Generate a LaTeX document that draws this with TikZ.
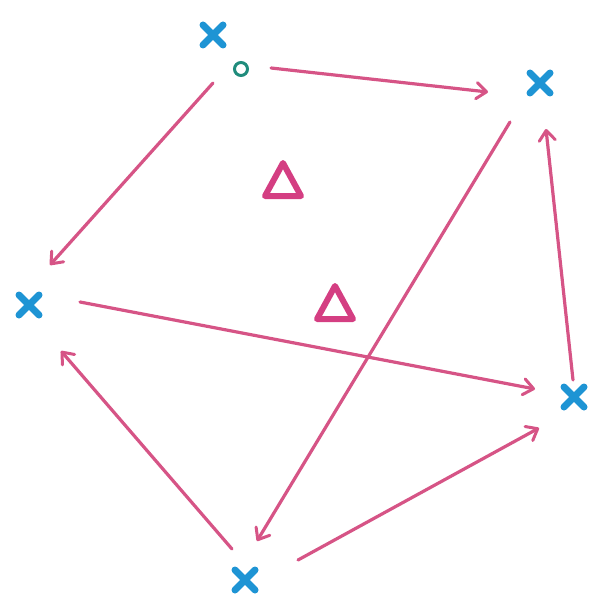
\documentclass[tikz,border=0pt]{standalone}
\usetikzlibrary{arrows.meta}
\definecolor{xblue}{RGB}{30,148,212}
\definecolor{arrpink}{RGB}{214,84,134}
\definecolor{tripink}{RGB}{212,62,130}
\definecolor{teal2}{RGB}{32,140,124}
\tikzset{
  xmark/.style={inner sep=0pt, minimum size=30pt, outer sep=0pt},
  xdraw/.style={draw=xblue, line width=7pt, line cap=round},
  conn/.style={draw=arrpink, line width=3.2pt, line cap=round,
    -{Straight Barb[length=10pt, width=16pt, line width=3pt, round]}},
  tri/.style={draw=tripink, line width=6pt, line join=round},
}
\newcommand{\xcross}[1]{\draw[xdraw] ([shift={(-10pt,-10pt)}]#1.center) -- ([shift={(10pt,10pt)}]#1.center) ([shift={(10pt,-10pt)}]#1.center) -- ([shift={(-10pt,10pt)}]#1.center);}
\begin{document}
\begin{tikzpicture}[x=1pt, y=-1pt]
\useasboundingbox (0,0) rectangle (594,599);
% marks
\node[xmark] (top) at (213,35) {};
\node[xmark] (tr) at (540,83) {};
\node[xmark] (lf) at (29,305) {};
\node[xmark] (rt) at (574,397) {};
\node[xmark] (bt) at (245,580) {};
\xcross{top}\xcross{tr}\xcross{lf}\xcross{rt}\xcross{bt}
\node[draw=teal2, line width=3pt, circle, minimum size=13pt, inner sep=0pt] (circ) at (241,69) {};
% arrow endpoints
\coordinate (a1s) at (271,68);  \coordinate (a1e) at (488,92);
\coordinate (a2s) at (213,83);  \coordinate (a2e) at (50,265);
\coordinate (a3s) at (510,122); \coordinate (a3e) at (257,541);
\coordinate (a4s) at (80,302);  \coordinate (a4e) at (535,389);
\coordinate (a5s) at (232,549); \coordinate (a5e) at (61,351);
\coordinate (a6s) at (298,560); \coordinate (a6e) at (539,428);
\coordinate (a7s) at (573,380); \coordinate (a7e) at (546,129);
\draw[conn] (a1s) -- (a1e);
\draw[conn] (a2s) -- (a2e);
\draw[conn] (a3s) -- (a3e);
\draw[conn] (a4s) -- (a4e);
\draw[conn] (a5s) -- (a5e);
\draw[conn] (a6s) -- (a6e);
\draw[conn] (a7s) -- (a7e);
% triangles
\draw[tri] (283,163) -- (301,196) -- (265,196) -- cycle;
\draw[tri] (335,286) -- (353,319) -- (317,319) -- cycle;
\end{tikzpicture}
\end{document}
